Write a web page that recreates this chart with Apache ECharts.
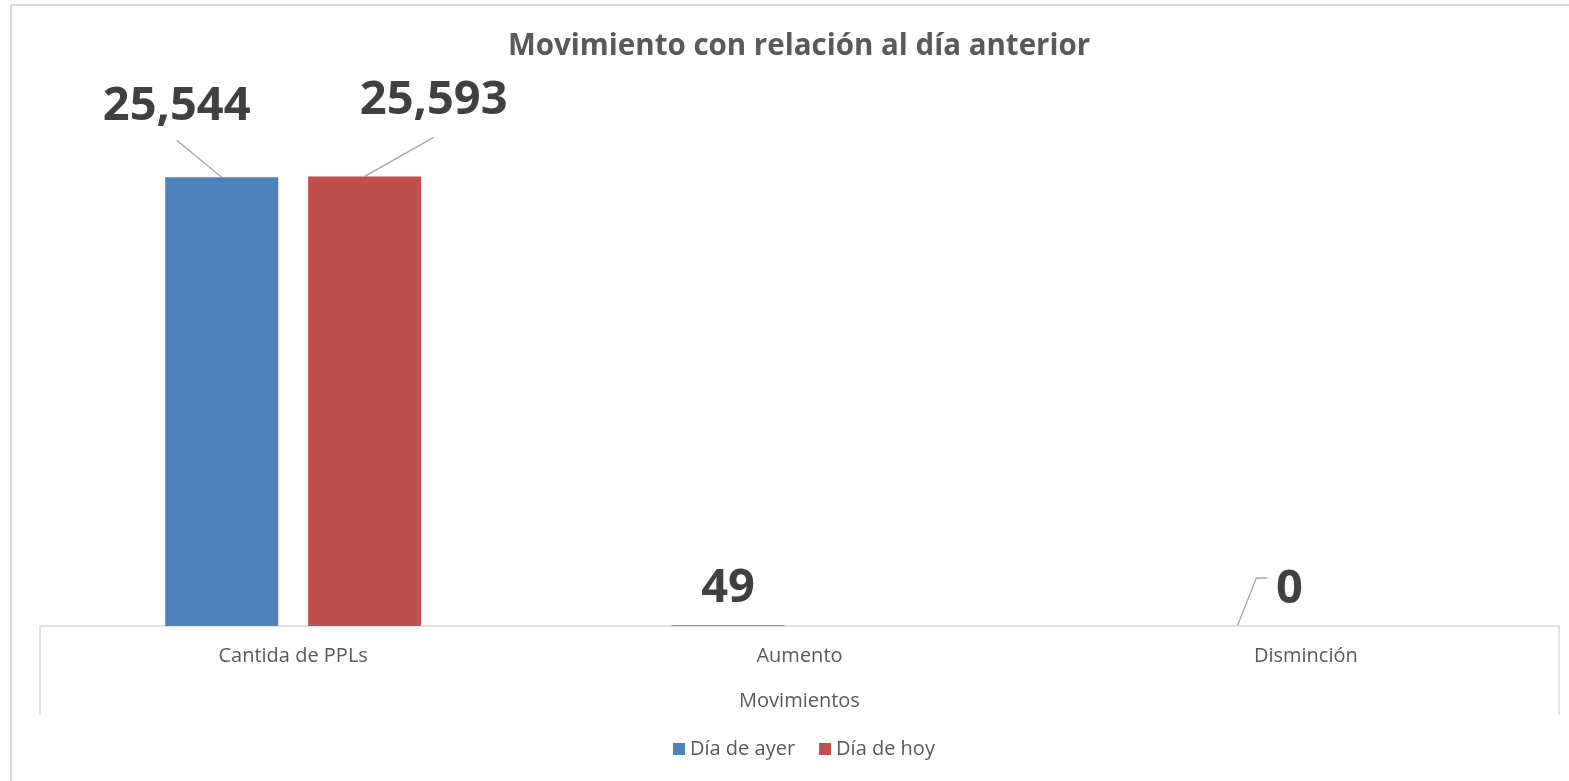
<!DOCTYPE html>
<html><head><meta charset="utf-8">
<script src="https://cdn.jsdelivr.net/npm/echarts@6/dist/echarts.min.js"></script>
<style>html,body{margin:0;padding:0;background:#fff}#c{width:1569px;height:781px}</style>
</head><body><div id="c"></div>
<script>
const categories = ['Cantida de PPLs', 'Aumento', 'Disminción'];
const seriesNames = ['Día de ayer', 'Día de hoy'];
const ayer = [25544, 49, 0];
const hoy = [25593, null, null];
const titleText = 'Movimiento con relación al día anterior';
const axisName = 'Movimientos';

const FONT = '"Open Sans", "Noto Sans", sans-serif';
const chart = echarts.init(document.getElementById('c'), null, {renderer: 'canvas'});
const labelBase = {show: true, position: 'top', fontFamily: FONT, fontWeight: 'bold', fontSize: 47, color: '#404040',
  formatter: p => p.value == null ? '' : p.value.toLocaleString('en-US')};
// label offsets [dx, dy] and leader-line bends relative to bar top centre
const layouts = [
  [
    {dx: -45, dy: -42, line: [[0, 0], [-45, -37]]},
    {dx: 0, dy: -8, line: null},
    {dx: 55, dy: -8, line: [[3, 0], [22, -48], [33, -48]]}
  ],
  [
    {dx: 69, dy: -47, line: [[0, 0], [69, -39]]},
    {dx: 0, dy: 0, line: null},
    {dx: 0, dy: 0, line: null}
  ]
];
const lineStyle = {stroke: '#a6a6a6', lineWidth: 1.3};
const frame = [
  {type: 'line', shape: {x1: 11, y1: 5, x2: 1569, y2: 5}, style: {stroke: '#d9d9d9', lineWidth: 2}},
  {type: 'line', shape: {x1: 11, y1: 5, x2: 11, y2: 781}, style: {stroke: '#d9d9d9', lineWidth: 2}},
  {type: 'line', shape: {x1: 40, y1: 626, x2: 40, y2: 715}, style: {stroke: '#d9d9d9', lineWidth: 1.5}},
  {type: 'line', shape: {x1: 1559, y1: 626, x2: 1559, y2: 715}, style: {stroke: '#d9d9d9', lineWidth: 1.5}}
];
chart.setOption({
  animation: false,
  title: {text: titleText, left: 503, top: 27, textStyle: {fontFamily: FONT, fontWeight: 'bold', fontSize: 29.5, color: '#595959'}},
  grid: {left: 40, right: 10, top: 99, bottom: 155},
  legend: {bottom: 17, left: 668, itemWidth: 12, itemHeight: 12, itemGap: 24, icon: 'rect',
    textStyle: {fontFamily: FONT, fontSize: 20, color: '#595959'}, data: seriesNames},
  xAxis: {type: 'category', data: categories,
    axisLine: {lineStyle: {color: '#d9d9d9', width: 1.5}}, axisTick: {show: false},
    axisLabel: {fontFamily: FONT, fontSize: 20, color: '#595959', margin: 20},
    name: axisName, nameLocation: 'middle', nameGap: 65,
    nameTextStyle: {fontFamily: FONT, fontSize: 20, color: '#595959'}},
  yAxis: {type: 'value', min: 0, max: 30000, show: false, splitLine: {show: false}},
  series: [ayer, hoy].map((arr, s) => ({
    name: seriesNames[s], type: 'bar', data: arr, barWidth: 113, barGap: '26.5%',
    itemStyle: {color: s === 0 ? '#4F81BD' : '#C0504D'},
    label: labelBase,
    labelLayout: p => ({dx: layouts[s][p.dataIndex].dx, dy: layouts[s][p.dataIndex].dy})
  })),
  graphic: frame
});
// leader lines anchored to the bar layout computed by ECharts
const leaders = [];
[0, 1].forEach(s => {
  const data = chart.getModel().getSeriesByIndex(s).getData();
  layouts[s].forEach((c, i) => {
    if (!c.line) return;
    const lay = data.getItemLayout(i);
    if (!lay) return;
    const cx = lay.x + lay.width / 2;
    const top = Math.min(lay.y, lay.y + lay.height);
    leaders.push({type: 'polyline', shape: {points: c.line.map(pt => [cx + pt[0], top + pt[1]])},
      style: {fill: null, stroke: lineStyle.stroke, lineWidth: lineStyle.lineWidth}});
  });
});
chart.setOption({graphic: frame.concat(leaders)}, {replaceMerge: ['graphic']});
</script></body></html>
